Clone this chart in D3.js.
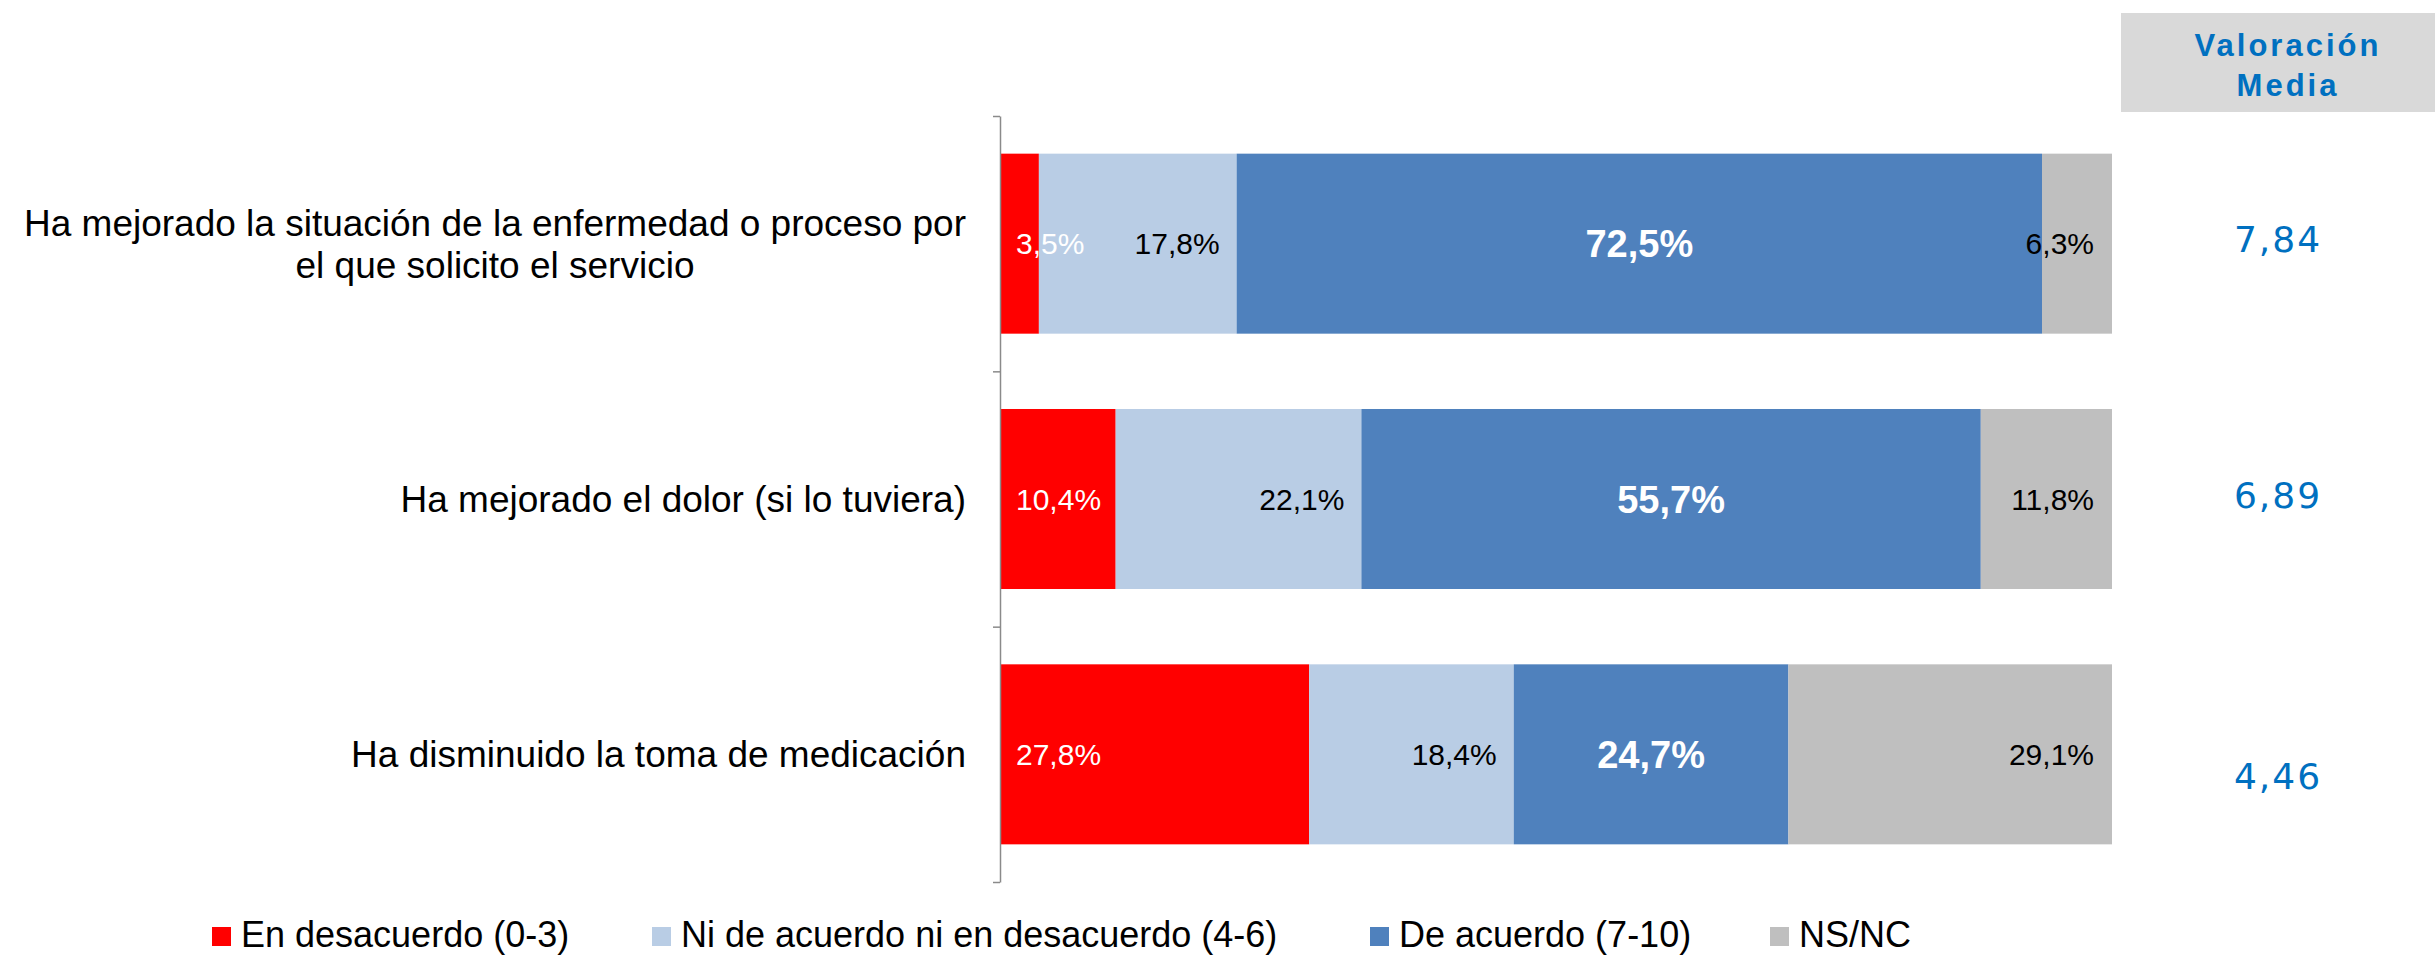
<!DOCTYPE html>
<html>
<head>
<meta charset="utf-8">
<script src="https://cdn.jsdelivr.net/npm/d3@7"></script>
<style>
  html, body { margin: 0; padding: 0; background: #ffffff; }
  svg { display: block; }
</style>
</head>
<body>
<svg id="chart" width="2435" height="957"></svg>
<script>
// ---------- DATA ----------
const categories = [
  "Ha mejorado la situación de la enfermedad o proceso por el que solicito el servicio",
  "Ha mejorado el dolor (si lo tuviera)",
  "Ha disminuido la toma de medicación"
];
const seriesNames = [
  "En desacuerdo (0-3)",
  "Ni de acuerdo ni en desacuerdo (4-6)",
  "De acuerdo (7-10)",
  "NS/NC"
];
const enDesacuerdo = [3.5, 10.4, 27.8];
const niNi = [17.8, 22.1, 18.4];
const deAcuerdo = [72.5, 55.7, 24.7];
const nsnc = [6.3, 11.8, 29.1];
const valoracionMedia = [7.84, 6.89, 4.46];
const headerLines = ["Valoración", "Media"];

// ---------- LAYOUT / STYLE ----------
const W = 2435, H = 957;
const colors = ["#ff0000", "#b9cde5", "#4f81bd", "#bfbfbf"];
const font = "'Liberation Sans', Arial, sans-serif";
const seriesValues = [enDesacuerdo, niNi, deAcuerdo, nsnc];

const svg = d3.select("#chart");
const x = d3.scaleLinear().domain([0, 1]).range([1000, 2112]);
const y = d3.scaleBand().domain(categories).range([116, 882])
  .paddingInner(0.295).paddingOuter(0.1475);

const locale = d3.formatLocale({decimal: ",", thousands: ".", grouping: [3], currency: ["", "€"]});
const pct = v => locale.format(".1f")(v) + "%";
const dec2 = locale.format(".2f");

// table for stacking
const rows = categories.map((c, i) => {
  const r = {cat: c};
  seriesNames.forEach((s, k) => r[s] = seriesValues[k][i]);
  return r;
});
const stacked = d3.stack().keys(seriesNames).offset(d3.stackOffsetExpand)(rows);

// bars
const gBars = svg.append("g");
stacked.forEach((layer, k) => {
  gBars.selectAll(null).data(layer).enter().append("rect")
    .attr("x", d => x(d[0]))
    .attr("y", d => y(d.data.cat))
    .attr("width", d => x(d[1]) - x(d[0]))
    .attr("height", y.bandwidth())
    .attr("fill", colors[k]);
});

// axis (category boundaries as ticks)
const yAxisScale = d3.scaleLinear().domain([0, categories.length]).range(y.range());
const axisG = svg.append("g").attr("transform", `translate(${x(0)},0)`)
  .call(d3.axisLeft(yAxisScale).tickValues(d3.range(categories.length + 1))
    .tickSize(7).tickSizeOuter(0).tickFormat(""));
axisG.selectAll("path, line").attr("stroke", "#8a8a8a").attr("stroke-width", 1.5);

// data labels
const labelSpec = [
  {anchor: "start", pos: d => x(d[0]) + 16, fill: "#ffffff", size: 30, weight: "normal"},
  {anchor: "end", pos: d => x(d[1]) - 17, fill: "#000000", size: 30, weight: "normal"},
  {anchor: "middle", pos: d => (x(d[0]) + x(d[1])) / 2, fill: "#ffffff", size: 38, weight: "bold"},
  {anchor: "end", pos: d => x(d[1]) - 18, fill: "#000000", size: 30, weight: "normal"}
];
const gLab = svg.append("g");
stacked.forEach((layer, k) => {
  const sp = labelSpec[k];
  gLab.selectAll(null).data(layer).enter().append("text")
    .attr("x", sp.pos)
    .attr("y", d => y(d.data.cat) + y.bandwidth() / 2 + sp.size * 0.36)
    .attr("text-anchor", sp.anchor)
    .attr("font-family", font)
    .attr("font-size", sp.size)
    .attr("font-weight", sp.weight)
    .attr("fill", sp.fill)
    .text(d => pct(d.data[seriesNames[k]]));
});

// category labels (wrapped, centered block, right edge at 966)
const gCat = svg.append("g");
const catFont = 37, lineH = 42, maxW = 960, rightEdge = 966;
categories.forEach(c => {
  const t = gCat.append("text").attr("font-family", font).attr("font-size", catFont)
    .attr("fill", "#000").attr("text-anchor", "middle");
  const words = c.split(" ");
  const lines = [];
  let cur = [];
  const probe = gCat.append("text").attr("font-family", font).attr("font-size", catFont);
  words.forEach(w => {
    const test = cur.concat([w]).join(" ");
    probe.text(test);
    if (probe.node().getComputedTextLength() > maxW && cur.length) {
      lines.push(cur.join(" "));
      cur = [w];
    } else cur.push(w);
  });
  lines.push(cur.join(" "));
  let wmax = 0;
  lines.forEach(l => { probe.text(l); wmax = Math.max(wmax, probe.node().getComputedTextLength()); });
  probe.remove();
  const cx = rightEdge - wmax / 2;
  const cy = y(c) + y.bandwidth() / 2;
  const n = lines.length;
  lines.forEach((l, i) => {
    t.append("tspan").attr("x", cx)
      .attr("y", cy + (i - (n - 1) / 2) * lineH + catFont * 0.35)
      .text(l);
  });
});

// Valoración Media header
const hdr = svg.append("g");
hdr.append("rect").attr("x", 2121).attr("y", 13).attr("width", W - 2121).attr("height", 99)
  .attr("fill", "#d9d9d9");
headerLines.forEach((l, i) => {
  hdr.append("text").attr("x", 2288).attr("y", 56 + i * 40)
    .attr("text-anchor", "middle").attr("font-family", font)
    .attr("font-size", 31).attr("font-weight", "bold").attr("letter-spacing", 3)
    .attr("fill", "#0070c0").text(l);
});

// Valoración values
const valOffsets = [8, 9, 35];
svg.append("g").selectAll("text").data(valoracionMedia).enter().append("text")
  .attr("x", 2278)
  .attr("y", (d, i) => y(categories[i]) + y.bandwidth() / 2 + valOffsets[i])
  .attr("text-anchor", "middle")
  .attr("font-family", "'DejaVu Sans', Verdana, sans-serif")
  .attr("font-size", 36)
  .attr("letter-spacing", 2)
  .attr("fill", "#0070c0")
  .text(d => dec2(d));

// legend
const legendX = [212, 652, 1370, 1770];
const lg = svg.append("g");
seriesNames.forEach((s, i) => {
  lg.append("rect").attr("x", legendX[i]).attr("y", 927).attr("width", 19).attr("height", 19)
    .attr("fill", colors[i]);
  lg.append("text").attr("x", legendX[i] + 29).attr("y", 947)
    .attr("font-family", font).attr("font-size", 36).attr("fill", "#000").text(s);
});
</script>
</body>
</html>
